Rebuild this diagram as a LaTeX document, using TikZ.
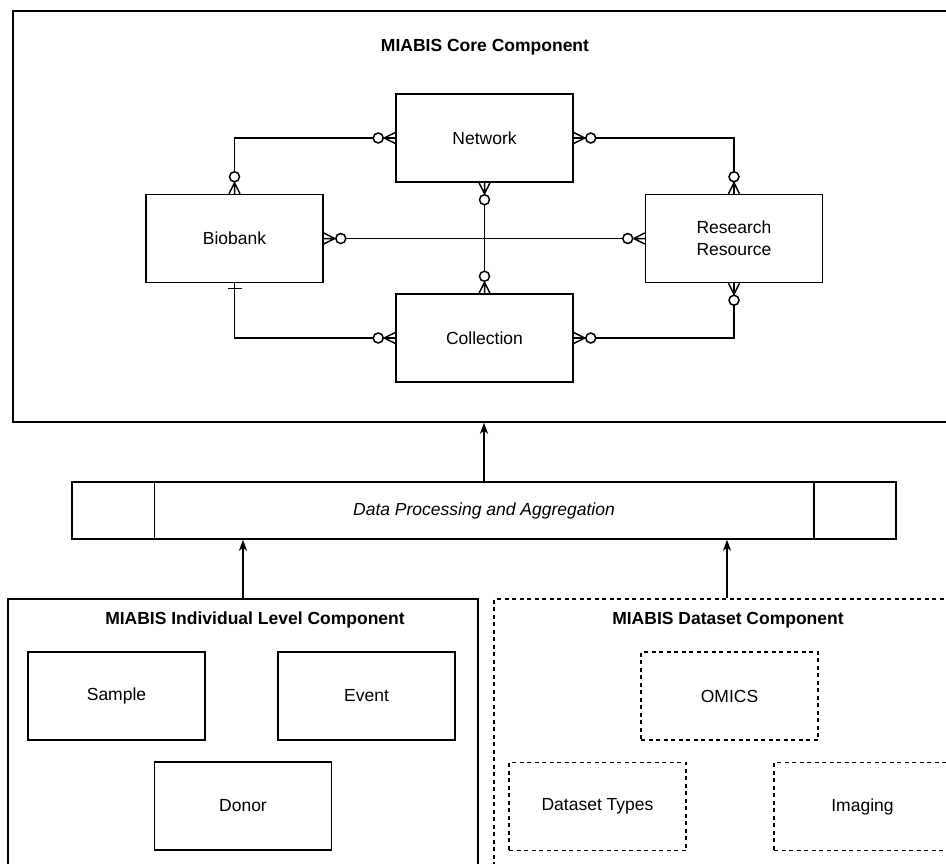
\documentclass[tikz,border=0pt]{standalone}
\usepackage{fontspec}
\setmainfont{Liberation Sans}
\usetikzlibrary{arrows.meta}

\begin{document}
\begin{tikzpicture}[x=1pt,y=-1pt,line width=1.5pt]
\tikzstyle{entity}=[rectangle, draw, minimum width=177pt, minimum height=88pt,
    font=\fontsize{17.5}{22}\selectfont]
\tikzstyle{dsentity}=[entity, dash pattern=on 4pt off 3.5pt]
\tikzstyle{title}=[font=\fontsize{17.5}{22}\selectfont\bfseries]
\tikzstyle{up}=[-{Stealth[length=11pt,width=8pt,inset=3pt]}]
\tikzset{zmany/.pic={
    \draw (0,-5.5) -- (11,0) (0,0) -- (11,0) (0,5.5) -- (11,0);
    \draw[fill=white] (17,0) circle (5);},
  justone/.pic={\draw (5,-7) -- (5,7);}}

\useasboundingbox (0,0) rectangle (946,863);
\clip (0,0) rectangle (946,863);

% core component
\node[rectangle, draw, minimum width=945pt, minimum height=411pt] (core) at (485.5,216.5) {};
\node[title] (coretitle) at (485,47) {MIABIS Core Component};

\node[entity] (net) at (484.5,138) {Network};
\node[entity] (bio) at (234.5,238.5) {Biobank};
\node[entity, align=center] (rr) at (734,238.5) {Research\\Resource};
\node[entity] (coll) at (484.5,338) {Collection};

\draw (net.west) -| (bio.north);
\draw (net.east) -| (rr.north);
\draw (bio.east) -- (rr.west);
\draw (net.south) -- (coll.north);
\draw (bio.south) |- (coll.west);
\draw (coll.east) -| (rr.south);

\pic[rotate=180] at (net.west) {zmany};
\pic[rotate=90] at (bio.north) {zmany};
\pic at (net.east) {zmany};
\pic[rotate=90] at (rr.north) {zmany};
\pic at (bio.east) {zmany};
\pic[rotate=180] at (rr.west) {zmany};
\pic[rotate=-90] at (net.south) {zmany};
\pic[rotate=90] at (coll.north) {zmany};
\pic[rotate=-90] at (bio.south) {justone};
\pic[rotate=180] at (coll.west) {zmany};
\pic at (coll.east) {zmany};
\pic[rotate=-90] at (rr.south) {zmany};

% processing layer
\node[rectangle, draw, minimum width=824pt, minimum height=57pt,
    font=\fontsize{17.5}{22}\selectfont\itshape] (dp) at (484,510.5) {Data Processing and Aggregation};
\draw ([xshift=83pt]dp.north west) -- ([xshift=83pt]dp.south west);
\draw ([xshift=-83pt]dp.north east) -- ([xshift=-83pt]dp.south east);

% lower components
\node[rectangle, draw, minimum width=470pt, minimum height=290pt] (ind) at (243,744) {};
\node[rectangle, draw, dash pattern=on 4pt off 3.5pt, minimum width=466pt,
    minimum height=290pt] (dsc) at (727,744) {};
\node[title] (indtitle) at (255,620) {MIABIS Individual Level Component};
\node[title] (dsctitle) at (728,620) {MIABIS Dataset Component};

\node[entity] (sample) at (116.5,696) {Sample};
\node[entity] (event) at (366.5,696) {Event};
\node[entity] (donor) at (243,806) {Donor};

\node[dsentity] (omics) at (729.5,696) {OMICS};
\node[dsentity] (dstypes) at (597.5,806.5) {Dataset Types};
\node[dsentity] (imaging) at (862.5,806.5) {Imaging};

\draw[up] (dp.north) -- (dp.north |- core.south);
\draw[up] (ind.north) -- (ind.north |- dp.south);
\draw[up] (dsc.north) -- (dsc.north |- dp.south);

\end{tikzpicture}
\end{document}
